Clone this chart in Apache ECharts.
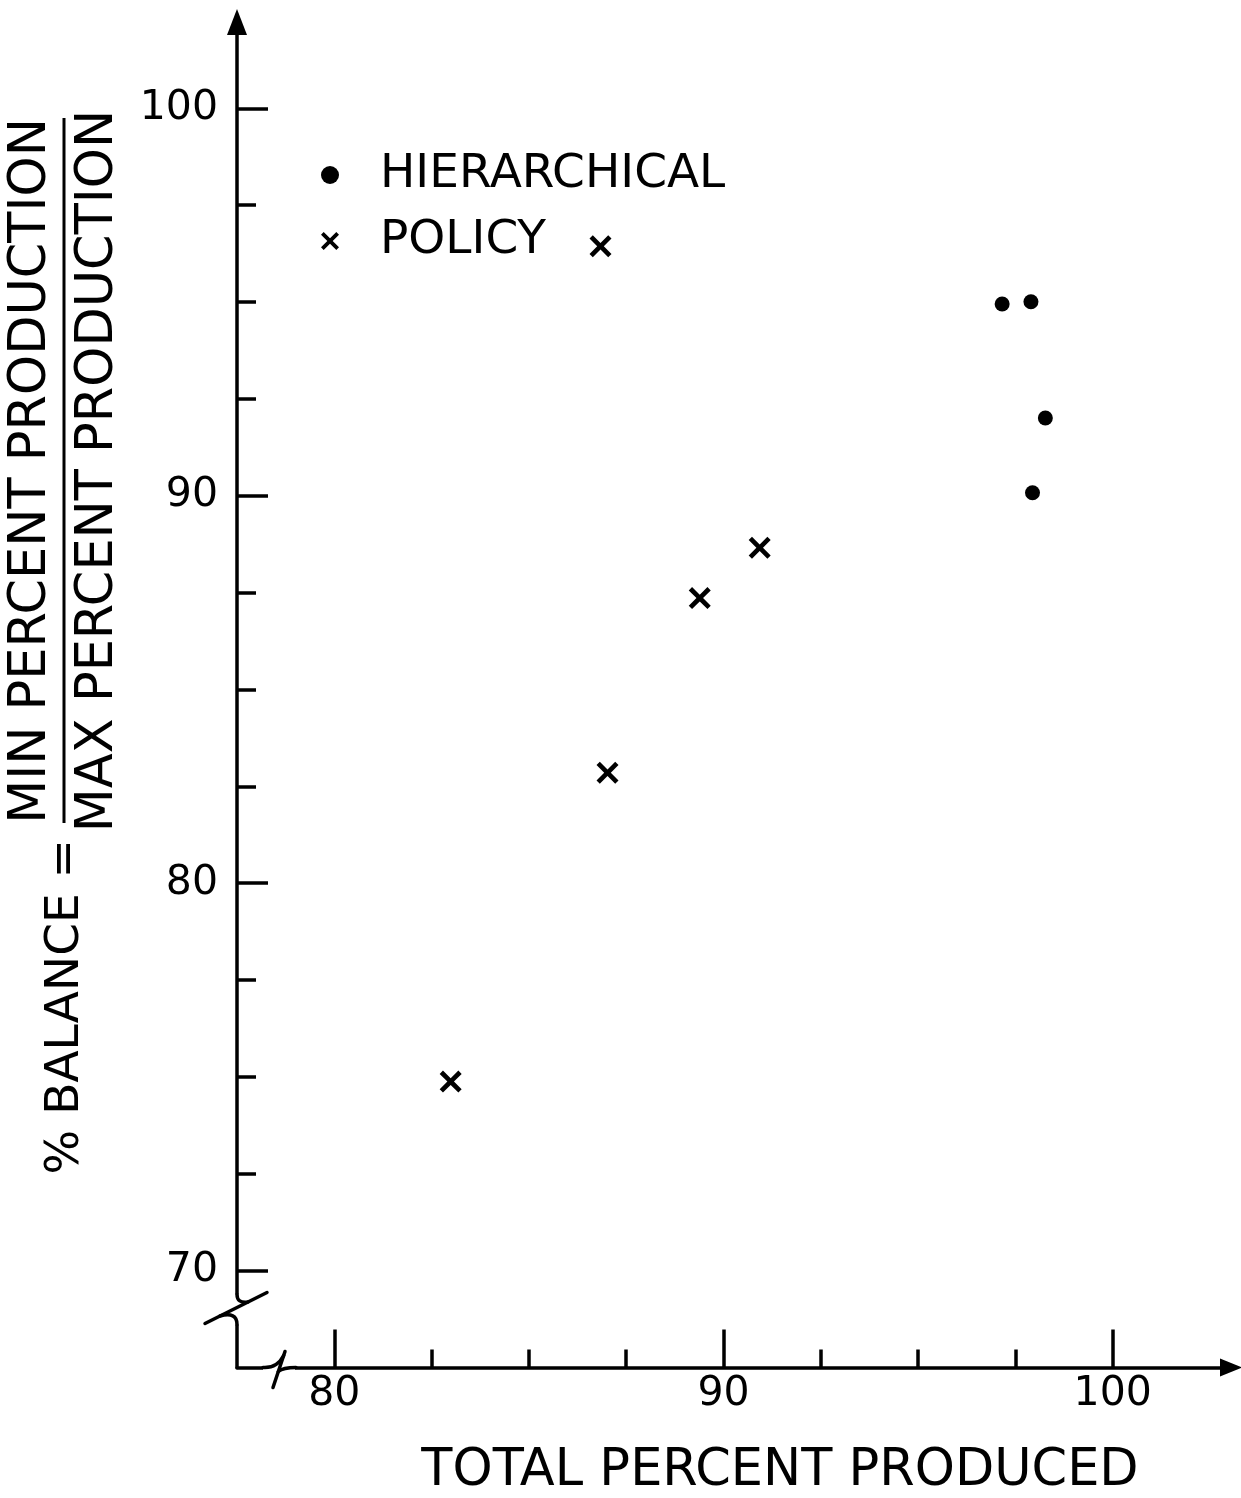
<!DOCTYPE html>
<html>
<head>
<meta charset="utf-8">
<script src="https://cdn.jsdelivr.net/npm/echarts@6/dist/echarts.min.js"></script>
<style>
  html, body { margin: 0; padding: 0; background: #fff; }
  #chart { width: 1241px; height: 1498px; }
</style>
</head>
<body>
<div id="chart"></div>
<script>
// values
const hierX = [97.16, 97.90, 98.27, 97.94];
const hierY = [94.95, 95.01, 92.01, 90.08];
const policyX = [82.99, 87.02, 89.39, 90.93, 86.84];
const policyY = [74.88, 82.85, 87.36, 88.66, 96.44];

const xMajor = [80, 90, 100];
const xMinor = [82.5, 85, 87.5, 92.5, 95, 97.5];
const yMajor = [70, 80, 90, 100];
const yMinor = [72.5, 75, 77.5, 82.5, 85, 87.5, 92.5, 95, 97.5];

const X_MIN = 77.5, X_MAX = 103.04;
const Y_MIN = 67.5, Y_MAX = 102.23;

const FONT = "DejaVu Sans";
const INK = "#000";
const CROSS = "path://M0,1.5 L1.5,0 L5,3.5 L8.5,0 L10,1.5 L6.5,5 L10,8.5 L8.5,10 L5,6.5 L1.5,10 L0,8.5 L3.5,5 Z";

function zip(xs, ys) {
  return xs.map((x, i) => [x, ys[i]]);
}

let chart = echarts.init(document.getElementById("chart"));

function xAxisOf(ticks, len, labels) {
  return {
    type: "value",
    position: "bottom",
    min: X_MIN,
    max: X_MAX,
    splitLine: { show: false },
    axisLine: {
      show: labels,
      onZero: false,
      symbol: ["none", "triangle"],
      symbolSize: [18, 22],
      lineStyle: { color: INK, width: 3.5 }
    },
    axisTick: {
      show: true,
      inside: true,
      length: len,
      customValues: ticks,
      lineStyle: { color: INK, width: 3.5 }
    },
    axisLabel: {
      show: labels,
      customValues: ticks,
      margin: 6,
      fontFamily: FONT,
      fontSize: 41,
      color: INK
    }
  };
}

function yAxisOf(ticks, len, labels) {
  return {
    type: "value",
    position: "left",
    min: Y_MIN,
    max: Y_MAX,
    splitLine: { show: false },
    axisLine: {
      show: labels,
      onZero: false,
      symbol: ["none", "triangle"],
      symbolSize: [20, 26],
      lineStyle: { color: INK, width: 3.5 }
    },
    axisTick: {
      show: true,
      inside: true,
      length: len,
      customValues: ticks,
      lineStyle: { color: INK, width: 3.5 }
    },
    axisLabel: {
      show: labels,
      customValues: ticks,
      margin: 19,
      fontFamily: FONT,
      fontSize: 41,
      color: INK
    }
  };
}

let option = {
  backgroundColor: "#fff",
  animation: false,
  grid: { left: 237, right: 10, top: 22, bottom: 130.5 },
  legend: {
    orient: "vertical",
    left: 321,
    top: 150,
    padding: 0,
    itemWidth: 90,
    itemHeight: 18,
    itemGap: 16,
    selectedMode: false,
    textStyle: { fontFamily: FONT, fontSize: 47, lineHeight: 50, color: INK },
    data: [
      { name: "HIERARCHICAL", icon: "circle", itemStyle: { color: INK, opacity: 1 } },
      { name: "POLICY", icon: CROSS, itemStyle: { color: INK, opacity: 1 } }
    ]
  },
  xAxis: [xAxisOf(xMajor, 38, true), xAxisOf(xMinor, 18, false)],
  yAxis: [yAxisOf(yMajor, 31, true), yAxisOf(yMinor, 19, false)],
  series: [
    {
      name: "HIERARCHICAL",
      type: "scatter",
      symbol: "circle",
      symbolSize: 15,
      itemStyle: { color: INK, opacity: 1 },
      data: zip(hierX, hierY)
    },
    {
      name: "POLICY",
      type: "scatter",
      symbol: CROSS,
      symbolSize: 22,
      itemStyle: { color: INK, opacity: 1 },
      data: zip(policyX, policyY)
    }
  ]
};

chart.setOption(option);

// axis breaks and titles, placed from the axis corner
const o = chart.convertToPixel({ seriesIndex: 0 }, [X_MIN, Y_MIN]);
const ox = o[0], oy = o[1];
const stroke = { stroke: INK, lineWidth: 3.5, lineCap: "round", fill: null };

function curve(x1, y1, cx, cy, x2, y2) {
  return {
    type: "bezierCurve",
    z: 101,
    shape: { x1: ox + x1, y1: oy + y1, cpx1: ox + cx, cpy1: oy + cy, x2: ox + x2, y2: oy + y2 },
    style: stroke
  };
}

function seg(x1, y1, x2, y2) {
  return {
    type: "line",
    z: 101,
    shape: { x1: ox + x1, y1: oy + y1, x2: ox + x2, y2: oy + y2 },
    style: stroke
  };
}

chart.setOption({
  graphic: [
    // y axis break
    { type: "rect", z: 100, shape: { x: ox - 8, y: oy - 73, width: 16, height: 30 }, style: { fill: "#fff" } },
    curve(0, -73, 0, -64, 11, -65.5),
    seg(30, -75, -32, -44),
    curve(-17, -51.5, 0, -56, 0, -43),
    // x axis break
    { type: "rect", z: 100, shape: { x: ox + 26, y: oy - 8, width: 32, height: 16 }, style: { fill: "#fff" } },
    curve(26, 0, 40, 1, 46.7, -12),
    seg(48, -16, 36, 20),
    curve(41.3, 4, 46, 0, 59, 0),
    // x title
    {
      type: "text",
      z: 101,
      x: 780,
      y: 1472,
      style: {
        text: "TOTAL PERCENT PRODUCED",
        fontFamily: FONT,
        fontSize: 51,
        fill: INK,
        align: "center",
        verticalAlign: "middle"
      }
    },
    // y title: % BALANCE = MIN.../MAX...
    {
      type: "group",
      x: 66,
      y: 823,
      rotation: Math.PI / 2,
      children: [
        {
          type: "text",
          x: -16,
          y: 0,
          style: {
            text: "% BALANCE =",
            fontFamily: FONT,
            fontSize: 47,
            fill: INK,
            align: "right",
            verticalAlign: "middle"
          }
        },
        {
          type: "line",
          shape: { x1: 0, y1: -2, x2: 705, y2: -2 },
          style: { stroke: INK, lineWidth: 3 }
        },
        {
          type: "text",
          x: 352,
          y: -34,
          style: {
            text: "MIN PERCENT PRODUCTION",
            fontFamily: FONT,
            fontSize: 51,
            fill: INK,
            align: "center",
            verticalAlign: "middle"
          }
        },
        {
          type: "text",
          x: 352,
          y: 33,
          style: {
            text: "MAX PERCENT PRODUCTION",
            fontFamily: FONT,
            fontSize: 51,
            fill: INK,
            align: "center",
            verticalAlign: "middle"
          }
        }
      ]
    }
  ]
});
</script>
</body>
</html>
